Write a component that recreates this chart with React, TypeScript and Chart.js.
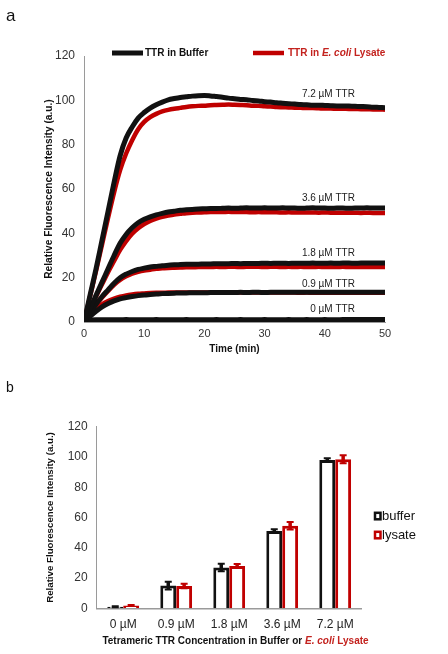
import React, { useEffect, useRef } from 'react';
import { Chart, registerables } from 'chart.js';

Chart.register(...registerables);

const FONT = "'Liberation Sans', Arial, Helvetica, sans-serif";
Chart.defaults.font.family = FONT;

const BLACK = '#111111';
const RED = '#c00000';
const RED_TEXT = '#c3221e';

// ---------- Panel a: kinetics (time in minutes) ----------
const TIME = [0, 1, 2, 3, 4, 5, 6, 7, 8, 9, 10, 11, 12, 13, 14, 15, 16, 17, 18, 19, 20, 21, 22, 23, 24, 25, 26, 27, 28, 29, 30, 31, 32, 33, 34, 35, 36, 37, 38, 39, 40, 41, 42, 43, 44, 45, 46, 47, 48, 49, 50];

const BUF_72 = [0, 12, 24, 37, 50, 63, 75, 83, 88, 92, 94.5, 96.5, 98, 99.2, 100.2, 100.8, 101.3, 101.6, 101.9, 102.1, 102.2, 102, 101.7, 101.4, 101, 100.7, 100.4, 100.3, 99.9, 99.7, 99.4, 99.2, 98.9, 98.7, 98.5, 98.3, 98.1, 98, 97.8, 97.8, 97.7, 97.6, 97.5, 97.5, 97.4, 97.3, 97.2, 97.1, 96.9, 96.8, 96.7];
const LYS_72 = [0, 11.5, 23, 35, 47, 58.5, 68.5, 76, 82, 87, 90.3, 92.4, 93.9, 95, 95.7, 96.2, 96.6, 97, 97.3, 97.5, 97.6, 97.8, 97.9, 98, 98.1, 98, 97.9, 97.8, 97.6, 97.5, 97.3, 97.2, 97, 96.9, 96.8, 96.7, 96.6, 96.5, 96.5, 96.4, 96.3, 96.3, 96.2, 96.2, 96.1, 96.1, 96, 96, 95.9, 95.9, 95.8];
const BUF_36 = [0, 6, 12, 18, 24, 30, 35.5, 39.5, 42.5, 44.8, 46.3, 47.4, 48.3, 49, 49.6, 50, 50.4, 50.6, 50.8, 51, 51.1, 51.2, 51.2, 51.3, 51.4, 51.3, 51.4, 51.5, 51.4, 51.4, 51.5, 51.4, 51.4, 51.5, 51.4, 51.4, 51.3, 51.4, 51.5, 51.4, 51.4, 51.3, 51.4, 51.4, 51.3, 51.4, 51.4, 51.5, 51.4, 51.4, 51.4];
const LYS_36 = [0, 5.8, 11.5, 17, 22.5, 27.5, 32.5, 36.5, 39.8, 42.3, 44.2, 45.6, 46.6, 47.4, 48, 48.5, 48.8, 49.1, 49.3, 49.4, 49.5, 49.6, 49.6, 49.6, 49.7, 49.6, 49.6, 49.6, 49.5, 49.6, 49.5, 49.5, 49.5, 49.4, 49.5, 49.4, 49.4, 49.4, 49.4, 49.3, 49.4, 49.3, 49.3, 49.3, 49.3, 49.3, 49.2, 49.3, 49.2, 49.2, 49.2];
const BUF_18 = [0, 4, 8, 11.5, 14.5, 17.5, 20, 21.6, 22.8, 23.7, 24.3, 24.8, 25.1, 25.4, 25.6, 25.8, 25.9, 26, 26.1, 26.1, 26.2, 26.2, 26.3, 26.3, 26.3, 26.4, 26.3, 26.4, 26.4, 26.4, 26.5, 26.4, 26.5, 26.5, 26.4, 26.5, 26.5, 26.5, 26.6, 26.5, 26.5, 26.6, 26.5, 26.6, 26.6, 26.5, 26.6, 26.6, 26.6, 26.6, 26.6];
const LYS_18 = [0, 3.8, 7.6, 11, 14, 16.8, 19, 20.6, 21.8, 22.6, 23.2, 23.6, 24, 24.2, 24.4, 24.5, 24.6, 24.7, 24.7, 24.8, 24.8, 24.8, 24.9, 24.8, 24.9, 24.9, 24.8, 24.9, 24.9, 24.9, 24.8, 24.9, 24.9, 24.8, 24.9, 24.8, 24.9, 24.8, 24.8, 24.9, 24.8, 24.8, 24.8, 24.9, 24.8, 24.8, 24.8, 24.8, 24.8, 24.8, 24.8];
const BUF_09 = [0, 2.5, 4.8, 6.8, 8.3, 9.5, 10.4, 11, 11.5, 11.9, 12.2, 12.4, 12.6, 12.8, 12.9, 13, 13.1, 13.1, 13.2, 13.2, 13.2, 13.3, 13.3, 13.3, 13.3, 13.3, 13.4, 13.3, 13.4, 13.4, 13.3, 13.4, 13.4, 13.4, 13.4, 13.4, 13.4, 13.4, 13.4, 13.4, 13.4, 13.4, 13.4, 13.4, 13.4, 13.4, 13.4, 13.4, 13.4, 13.4, 13.4];
const LYS_09 = [0, 3, 5.8, 8, 9.5, 10.6, 11.4, 12, 12.4, 12.7, 12.9, 13.1, 13.2, 13.2, 13.3, 13.3, 13.3, 13.3, 13.3, 13.3, 13.3, 13.3, 13.3, 13.3, 13.3, 13.3, 13.3, 13.3, 13.3, 13.3, 13.3, 13.3, 13.3, 13.3, 13.3, 13.3, 13.2, 13.3, 13.2, 13.2, 13.2, 13.2, 13.2, 13.2, 13.2, 13.2, 13.2, 13.2, 13.2, 13.2, 13.2];
const BUF_00 = [0.3, 0.9, 1, 1, 1, 1, 1, 1.1, 1, 1, 1, 1, 1.1, 1, 1, 1, 1, 1.1, 1, 1, 1, 1, 1.1, 1, 1, 1, 1.1, 1, 1, 1, 1.1, 1, 1, 1, 1.1, 1, 1, 1.1, 1, 1, 1.1, 1, 1, 1.1, 1.1, 1.1, 1.1, 1.1, 1.1, 1.1, 1.1];
const LYS_00 = [0.2, 0.4, 0.4, 0.4, 0.4, 0.4, 0.4, 0.4, 0.4, 0.4, 0.4, 0.4, 0.4, 0.4, 0.4, 0.4, 0.4, 0.4, 0.4, 0.4, 0.4, 0.4, 0.4, 0.4, 0.4, 0.4, 0.4, 0.4, 0.4, 0.4, 0.4, 0.4, 0.4, 0.4, 0.4, 0.4, 0.4, 0.4, 0.4, 0.4, 0.4, 0.4, 0.4, 0.4, 0.4, 0.4, 0.4, 0.4, 0.4, 0.4, 0.4];

const BUFFER_SERIES = [BUF_72, BUF_36, BUF_18, BUF_09, BUF_00];
const LYSATE_SERIES = [LYS_72, LYS_36, LYS_18, LYS_09, LYS_00];
const CONC_LABELS = ['7.2 µM TTR', '3.6 µM TTR', '1.8 µM TTR', '0.9 µM TTR', '0 µM TTR'];
const CONC_LABEL_VALUE = [102.6, 56, 31, 17, 5.9];
const CONC_LABEL_TIME = 45;

// ---------- Panel b: end-point bars ----------
const BAR_CATS = ['0 µM', '0.9 µM', '1.8 µM', '3.6 µM', '7.2 µM'];
const BAR_BUFFER = [1, 15, 27, 51, 98];
const BAR_LYSATE = [1.8, 14.7, 28, 54.5, 98.5];
const ERR_BUFFER = [0.3, 2.5, 2.5, 1.2, 1.2];
const ERR_LYSATE = [0.3, 1.5, 1.2, 2.5, 2.6];

type Run = { text: string; font: string; color: string };

function drawRuns(ctx: CanvasRenderingContext2D, runs: Run[], x: number, y: number, center: boolean) {
  let total = 0;
  runs.forEach((r) => {
    ctx.font = r.font;
    total += ctx.measureText(r.text).width;
  });
  let cx = center ? x - total / 2 : x;
  ctx.textAlign = 'left';
  ctx.textBaseline = 'middle';
  runs.forEach((r) => {
    ctx.font = r.font;
    ctx.fillStyle = r.color;
    ctx.fillText(r.text, cx, y);
    cx += ctx.measureText(r.text).width;
  });
}

const kineticsDecor = {
  id: 'kineticsDecor',
  afterDatasetsDraw(chart: any) {
    const { ctx } = chart;
    const x = chart.scales.x;
    const y = chart.scales.y;
    ctx.save();
    ctx.font = `10px ${FONT}`;
    ctx.fillStyle = '#222';
    ctx.textAlign = 'right';
    ctx.textBaseline = 'middle';
    CONC_LABELS.forEach((t, i) => {
      ctx.fillText(t, x.getPixelForValue(CONC_LABEL_TIME), y.getPixelForValue(CONC_LABEL_VALUE[i]));
    });
    // legend
    const ly = 53;
    ctx.lineWidth = 5;
    ctx.strokeStyle = BLACK;
    ctx.beginPath();
    ctx.moveTo(112, ly);
    ctx.lineTo(143, ly);
    ctx.stroke();
    ctx.lineWidth = 4.5;
    ctx.strokeStyle = RED;
    ctx.beginPath();
    ctx.moveTo(253, ly);
    ctx.lineTo(284, ly);
    ctx.stroke();
    const bold = `bold 10px ${FONT}`;
    const boldIt = `italic bold 10px ${FONT}`;
    drawRuns(ctx, [{ text: 'TTR in Buffer', font: bold, color: BLACK }], 145, ly, false);
    drawRuns(
      ctx,
      [
        { text: 'TTR in ', font: bold, color: RED_TEXT },
        { text: 'E. coli', font: boldIt, color: RED_TEXT },
        { text: ' Lysate', font: bold, color: RED_TEXT },
      ],
      288,
      ly,
      false
    );
    ctx.restore();
  },
};

const barDecor = {
  id: 'barDecor',
  afterDatasetsDraw(chart: any) {
    const { ctx } = chart;
    const y = chart.scales.y;
    const errs = [ERR_BUFFER, ERR_LYSATE];
    const cols = [BLACK, RED];
    ctx.save();
    chart.data.datasets.forEach((ds: any, di: number) => {
      const meta = chart.getDatasetMeta(di);
      meta.data.forEach((el: any, i: number) => {
        const v = ds.data[i];
        const e = errs[di][i];
        const top = y.getPixelForValue(v + e);
        const bot = y.getPixelForValue(v - e);
        ctx.strokeStyle = cols[di];
        ctx.lineWidth = 3.5;
        ctx.beginPath();
        ctx.moveTo(el.x, top);
        ctx.lineTo(el.x, bot);
        ctx.stroke();
        ctx.lineWidth = 2;
        ctx.beginPath();
        ctx.moveTo(el.x - 3.5, top);
        ctx.lineTo(el.x + 3.5, top);
        ctx.moveTo(el.x - 3.5, bot);
        ctx.lineTo(el.x + 3.5, bot);
        ctx.stroke();
      });
    });
    ctx.restore();
  },
  afterDraw(chart: any) {
    const { ctx } = chart;
    ctx.save();
    // legend (right)
    const items = [
      { label: 'buffer', color: BLACK, y: 146 },
      { label: 'lysate', color: RED, y: 165 },
    ];
    items.forEach((it) => {
      ctx.strokeStyle = it.color;
      ctx.lineWidth = 2.5;
      ctx.strokeRect(375, it.y - 3.2, 5.5, 6.5);
      drawRuns(ctx, [{ text: it.label, font: `13px ${FONT}`, color: '#111' }], 382, it.y, false);
    });
    // x-axis title with mixed styling
    const bold = `bold 10px ${FONT}`;
    const boldIt = `italic bold 10px ${FONT}`;
    drawRuns(
      ctx,
      [
        { text: 'Tetrameric TTR Concentration in Buffer or ', font: bold, color: BLACK },
        { text: 'E. coli', font: boldIt, color: RED_TEXT },
        { text: ' Lysate', font: bold, color: RED_TEXT },
      ],
      235.5,
      271,
      true
    );
    ctx.restore();
  },
};

export default function App() {
  const aRef = useRef<HTMLCanvasElement>(null);
  const bRef = useRef<HTMLCanvasElement>(null);

  useEffect(() => {
    const lineDatasets: any[] = [];
    BUFFER_SERIES.forEach((s, i) => {
      lineDatasets.push({
        label: 'TTR in Buffer ' + CONC_LABELS[i],
        data: TIME.map((t, k) => ({ x: t, y: s[k] })),
        borderColor: BLACK,
        borderWidth: 5,
        pointRadius: 0,
        cubicInterpolationMode: 'monotone',
        fill: false,
      });
    });
    LYSATE_SERIES.forEach((s, i) => {
      lineDatasets.push({
        label: 'TTR in E. coli Lysate ' + CONC_LABELS[i],
        data: TIME.map((t, k) => ({ x: t, y: s[k] })),
        borderColor: RED,
        borderWidth: 4.5,
        pointRadius: 0,
        cubicInterpolationMode: 'monotone',
        fill: false,
      });
    });

    const ca = new Chart(aRef.current as HTMLCanvasElement, {
      type: 'line',
      data: { datasets: lineDatasets },
      options: {
        animation: false,
        responsive: false,
        maintainAspectRatio: false,
        layout: { padding: { left: 0, top: 56, right: 63, bottom: 0 } },
        plugins: { legend: { display: false }, tooltip: { enabled: false } },
        scales: {
          x: {
            type: 'linear',
            min: 0,
            max: 50,
            ticks: { stepSize: 10, color: '#333', font: { size: 11 }, padding: 5.4 },
            grid: { display: false, drawTicks: false },
            border: { color: '#9a9a9a', width: 1 },
            title: {
              display: true,
              text: 'Time (min)',
              color: BLACK,
              font: { size: 10, weight: 'bold' },
              padding: { top: 0, bottom: 15 },
            },
            afterFit: (s: any) => {
              s.height = 48;
            },
          },
          y: {
            min: 0,
            max: 120,
            ticks: { stepSize: 20, color: '#333', font: { size: 12 }, padding: 9 },
            grid: { display: false, drawTicks: false },
            border: { color: '#9a9a9a', width: 1 },
            title: {
              display: true,
              text: 'Relative Fluorescence Intensity (a.u.)',
              color: BLACK,
              font: { size: 10.2, weight: 'bold' },
              padding: { top: 42.8, bottom: 0 },
            },
            afterFit: (s: any) => {
              s.width = 84;
            },
          },
        },
      } as any,
      plugins: [kineticsDecor],
    });

    const cb = new Chart(bRef.current as HTMLCanvasElement, {
      type: 'bar',
      data: {
        labels: BAR_CATS,
        datasets: [
          {
            label: 'buffer',
            data: BAR_BUFFER,
            backgroundColor: '#ffffff',
            borderColor: BLACK,
            borderWidth: 3,
            categoryPercentage: 0.6,
            barPercentage: 1,
          },
          {
            label: 'lysate',
            data: BAR_LYSATE,
            backgroundColor: '#ffffff',
            borderColor: RED,
            borderWidth: 3,
            categoryPercentage: 0.6,
            barPercentage: 1,
          },
        ],
      },
      options: {
        animation: false,
        responsive: false,
        maintainAspectRatio: false,
        layout: { padding: { left: 0, top: 56.7, right: 86.3, bottom: 0 } },
        plugins: { legend: { display: false }, tooltip: { enabled: false } },
        scales: {
          x: {
            ticks: { color: '#222', font: { size: 12 }, padding: 9.5 },
            grid: { display: false, drawTicks: false },
            border: { color: '#9a9a9a', width: 1.5 },
            afterFit: (s: any) => {
              s.height = 45.7;
            },
          },
          y: {
            min: 0,
            max: 120,
            ticks: { stepSize: 20, color: '#333', font: { size: 12 }, padding: 9 },
            grid: { display: false, drawTicks: false },
            border: { color: '#9a9a9a', width: 1 },
            title: {
              display: true,
              text: 'Relative Fluorescence Intensity (a.u.)',
              color: BLACK,
              font: { size: 9.7, weight: 'bold' },
              padding: { top: 44.2, bottom: 0 },
            },
            afterFit: (s: any) => {
              s.width = 96.7;
            },
          },
        },
      } as any,
      plugins: [barDecor],
    });

    return () => {
      ca.destroy();
      cb.destroy();
    };
  }, []);

  return (
    <div
      style={{
        position: 'absolute',
        left: 0,
        top: 0,
        width: 448,
        height: 654,
        background: '#ffffff',
        fontFamily: FONT,
        overflow: 'hidden',
      }}
    >
      <canvas
        ref={aRef}
        width={448}
        height={370}
        style={{ position: 'absolute', left: 0, top: 0, width: 448, height: 370 }}
      />
      <canvas
        ref={bRef}
        width={448}
        height={284}
        style={{ position: 'absolute', left: 0, top: 370, width: 448, height: 284 }}
      />
      <div style={{ position: 'absolute', left: 6, top: 7.3, fontSize: 17, lineHeight: '17px', color: '#111' }}>a</div>
      <div style={{ position: 'absolute', left: 6, top: 379.8, fontSize: 14, lineHeight: '14px', color: '#111' }}>b</div>
    </div>
  );
}
